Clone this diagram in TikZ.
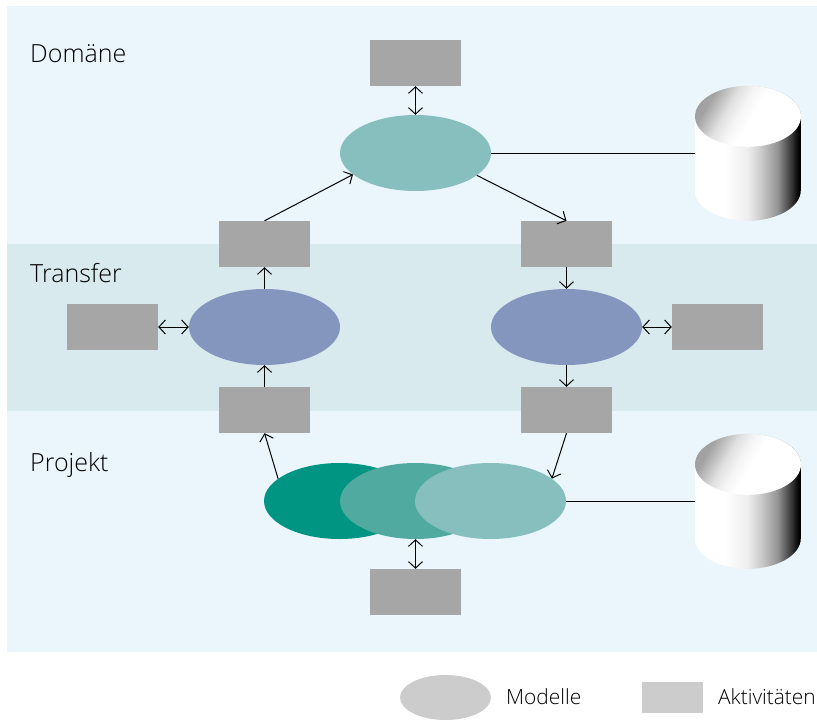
\documentclass[tikz,border=0pt]{standalone}
\usepackage{fontspec}
\setmainfont{Open Sans Light}
\usetikzlibrary{arrows.meta,shapes.geometric}
\definecolor{bandlight}{HTML}{EAF5FC}
\definecolor{bandmid}{HTML}{D8EAED}
\definecolor{actgray}{HTML}{A6A6A6}
\definecolor{leggray}{HTML}{CCCCCC}
\definecolor{tealA}{HTML}{009482}
\definecolor{tealB}{HTML}{50AAA0}
\definecolor{tealC}{HTML}{86BFBE}
\definecolor{bluem}{HTML}{8496BE}
\pgfdeclarehorizontalshading{cylside}{100bp}{
  color(0bp)=(white); color(39bp)=(white); color(50bp)=(white!93!black);
  color(56bp)=(white!80!black); color(64bp)=(white!58!black);
  color(71.5bp)=(white!16!black); color(74bp)=(black); color(100bp)=(black)}
\pgfdeclarehorizontalshading{cyltopsh}{100bp}{
  color(0bp)=(white!55!black); color(27bp)=(white!64!black); color(38bp)=(white!88!black);
  color(45bp)=(white!96!black); color(52bp)=(white); color(100bp)=(white)}
\tikzset{
  actbox/.style={rectangle,fill=actgray,minimum width=91pt,minimum height=46pt,inner sep=0pt},
  model/.style={ellipse,minimum width=151pt,minimum height=76pt,inner sep=0pt},
  conn/.style={draw=black,line width=1pt},
  arr/.style={conn,-{Straight Barb[length=6.5pt,width=14pt,line width=1pt]}},
  darr/.style={conn,{Straight Barb[length=6.5pt,width=14pt,line width=1pt]}-{Straight Barb[length=6.5pt,width=14pt,line width=1pt]}},
  lab/.style={anchor=base west,inner sep=0pt,font=\fontsize{25}{29}\selectfont},
  leglab/.style={anchor=base west,inner sep=0pt,font=\fontsize{20.9}{25}\selectfont},
  cylbox/.style={rectangle,minimum width=106pt,minimum height=135pt,inner sep=0pt}
}
\newcommand{\cylshape}[1]{%
  \path[shading=cylside] (#1.north west) ++(0,-30.5pt)
     -- ++(0,-74pt) arc[start angle=180,end angle=360,x radius=53pt,y radius=30.5pt]
     -- ++(0,74pt) arc[start angle=0,end angle=180,x radius=53pt,y radius=30.5pt] -- cycle;
  \path[shading=cyltopsh,shading angle=-30] (#1.north) ++(0,-30.5pt) circle[x radius=53pt,y radius=30.5pt];
}
\begin{document}
\begin{tikzpicture}[x=1pt,y=-1pt]
\useasboundingbox (0,0) rectangle (817,720);
\fill[bandlight] (7,6) rectangle (817,652);
\fill[bandmid] (7,244) rectangle (817,411);

\node[lab] (tdom) at (30,62) {Domäne};
\node[lab] (ttra) at (30,282) {Transfer};
\node[lab] (tpro) at (30,471) {Projekt};

\node[actbox] (atop) at (415.5,63) {};
\node[actbox] (aul) at (264.5,244) {};
\node[actbox] (aur) at (566.5,244) {};
\node[actbox] (asl) at (112.5,327) {};
\node[actbox] (asr) at (717.5,327) {};
\node[actbox] (all) at (264.5,410) {};
\node[actbox] (alr) at (566.5,410) {};
\node[actbox] (abot) at (415.5,592) {};

\node[model,fill=tealC] (mdom) at (415.5,153) {};
\node[model,fill=bluem] (mtl) at (264.5,327) {};
\node[model,fill=bluem] (mtr) at (566.5,327) {};
\node[model,fill=tealA] (mp1) at (339.5,501) {};
\node[model,fill=tealB] (mp2) at (415.5,501) {};
\node[model,fill=tealC] (mp3) at (490.5,501) {};

\node[cylbox] (cyl1) at (748,153.5) {};
\node[cylbox] (cyl2) at (748,501.5) {};
\cylshape{cyl1}
\cylshape{cyl2}

\draw[darr] (atop.south) -- (mdom.north);
\draw[conn] (mdom.east) -- (mdom.east -| cyl1.west);
\draw[arr] (aul.north) -- (mdom.199);
\draw[arr] (mdom.-20) -- (aur.north);
\draw[arr] (aur.south) -- (mtr.north);
\draw[arr] (mtl.north) -- (aul.south);
\draw[darr] (asl.east) -- (mtl.west);
\draw[darr] (mtr.east) -- (asr.west);
\draw[arr] (all.north) -- (mtl.south);
\draw[arr] (mtr.south) -- (alr.north);
\draw[arr] (mp1.160) -- (all.south);
\draw[arr] (alr.south) -- (mp3.20);
\draw[conn] (mp3.east) -- (mp3.east -| cyl2.west);
\draw[darr] (mp2.south) -- (abot.north);

\node[model,fill=leggray,minimum width=91pt,minimum height=45pt] (lege) at (445.5,697.5) {};
\node[rectangle,fill=leggray,minimum width=61pt,minimum height=31pt,inner sep=0pt] (legr) at (672.5,697.5) {};
\node[leglab] (tmod) at (506,704) {Modelle};
\node[leglab] (takt) at (718,704) {Aktivitäten};
\end{tikzpicture}
\end{document}
